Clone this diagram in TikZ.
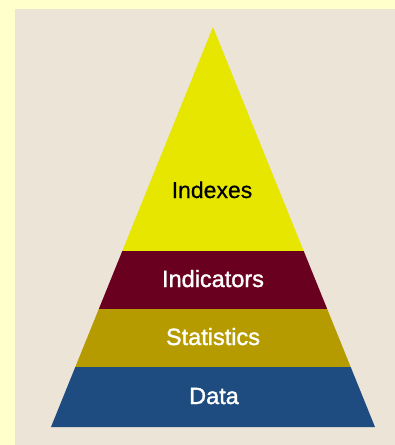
\documentclass[tikz,border=0pt]{standalone}
\usepackage{fontspec}
\setmainfont{Liberation Sans}
\newfontfamily\heavysans[FakeBold=1.4]{Liberation Sans}
\newfontfamily\medsans[FakeBold=0.6]{Liberation Sans}
\definecolor{frameyellow}{HTML}{FFFFCC}
\definecolor{beige}{HTML}{ECE4D7}
\definecolor{topyellow}{HTML}{E6E600}
\definecolor{maroon}{HTML}{6A0020}
\definecolor{olive}{HTML}{B59B00}
\definecolor{deepblue}{HTML}{1E4C80}
\tikzset{
  band/.style={draw=none},
  lbl/.style={anchor=base, inner sep=0pt, font=\heavysans\fontsize{23.5}{24}\selectfont, text=white},
  toplbl/.style={anchor=base, inner sep=0pt, font=\medsans\fontsize{23}{24}\selectfont, text=black},
}
\begin{document}
\begin{tikzpicture}[x=1pt,y=-1pt]
\useasboundingbox (0,0) rectangle (395,445);
\fill[frameyellow] (0,0) rectangle (395,445);
\fill[beige] (15,9) rectangle (395,445);
% pyramid: apex (213,27), base y=427 from 51 to 375
\coordinate (apex) at (213,27);
\coordinate (b1l) at (122.3,251); \coordinate (b1r) at (303.7,251);
\coordinate (b2l) at (98.8,309);  \coordinate (b2r) at (327.2,309);
\coordinate (b3l) at (75.3,367);  \coordinate (b3r) at (350.7,367);
\coordinate (b4l) at (51,427);    \coordinate (b4r) at (375,427);
\fill[band,topyellow] (apex) -- (b1r) -- (b1l) -- cycle;
\fill[band,maroon] (b1l) -- (b1r) -- (b2r) -- (b2l) -- cycle;
\fill[band,olive] (b2l) -- (b2r) -- (b3r) -- (b3l) -- cycle;
\fill[band,deepblue] (b3l) -- (b3r) -- (b4r) -- (b4l) -- cycle;
\node[toplbl] (indexes) at (212,198) {Indexes};
\node[lbl] (indicators) at (213,287) {Indicators};
\node[lbl] (statistics) at (213,345) {Statistics};
\node[lbl] (data) at (214,404) {Data};
\end{tikzpicture}
\end{document}
